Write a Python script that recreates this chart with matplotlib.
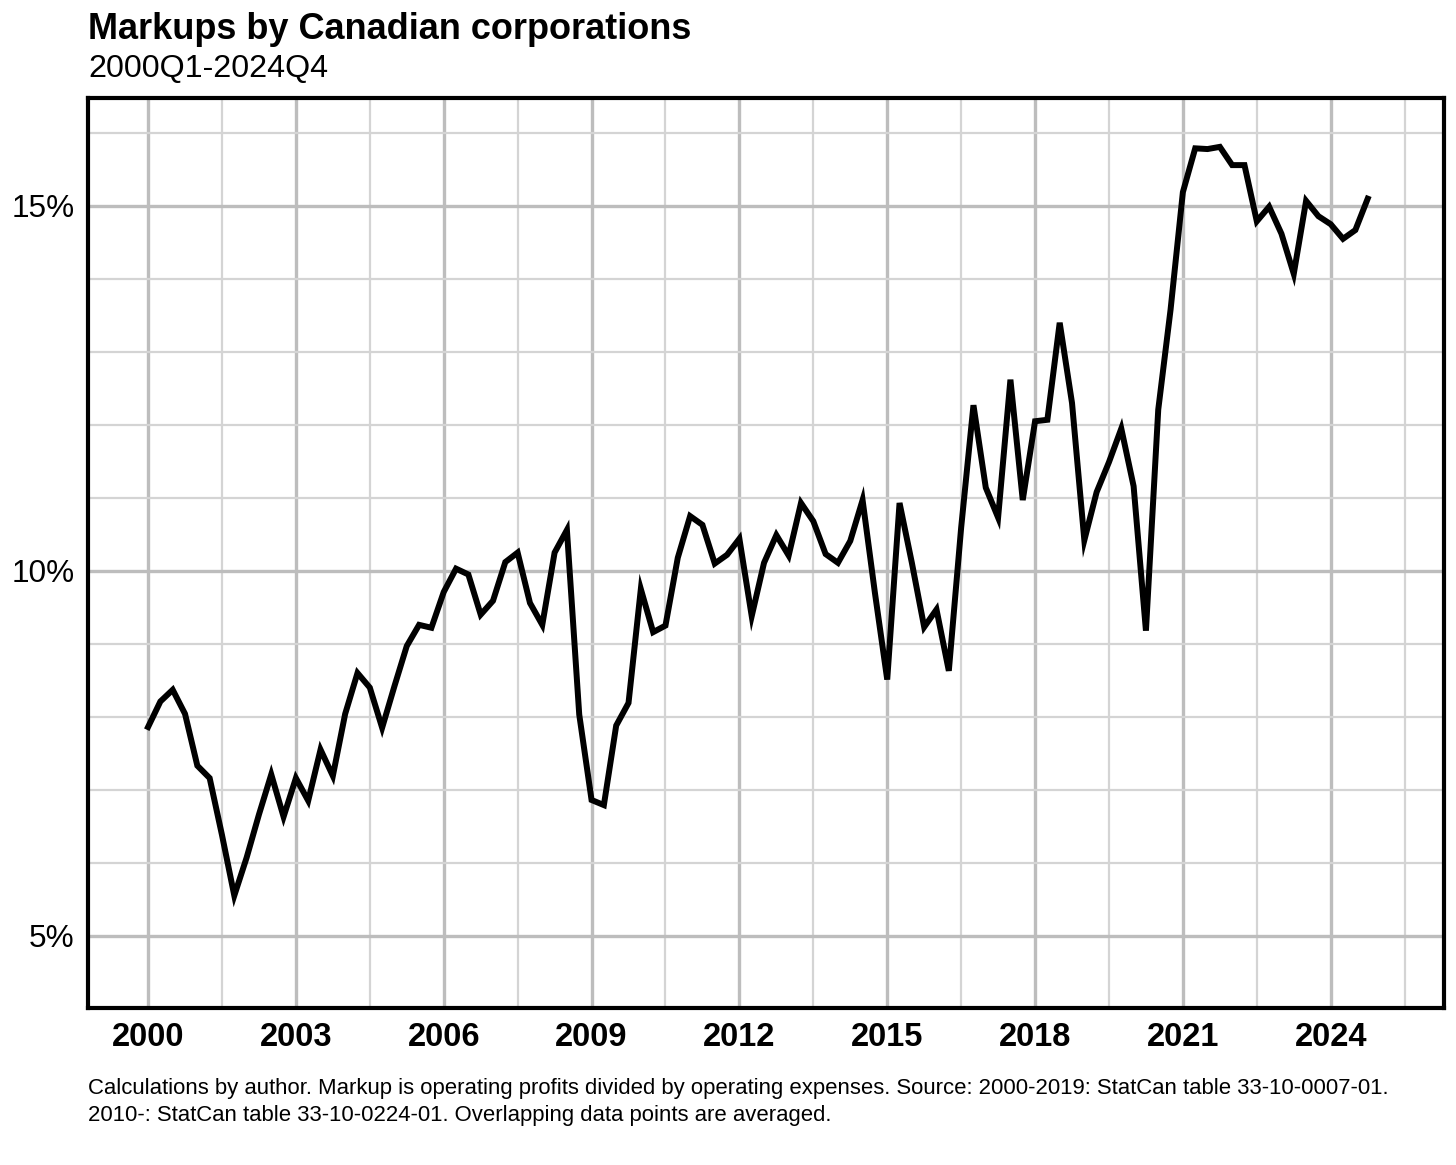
"""Markups by Canadian corporations, 2000Q1-2024Q4 (quarterly line chart)."""
import matplotlib
matplotlib.use("Agg")
import matplotlib.pyplot as plt
from matplotlib.ticker import FixedLocator, FuncFormatter

plt.rcParams["font.family"] = ["Liberation Sans", "DejaVu Sans"]

# quarterly markup, percent
markup = [
    7.86, 8.21, 8.37, 8.04, 7.33, 7.16, 6.38, 5.55,   # 2000-2001
    6.07, 6.66, 7.21, 6.63, 7.16, 6.85, 7.55, 7.19,   # 2002-2003
    8.04, 8.60, 8.40, 7.85, 8.42, 8.97, 9.26, 9.22,   # 2004-2005
    9.71, 10.03, 9.95, 9.40, 9.59, 10.12, 10.25, 9.56,  # 2006-2007
    9.26, 10.25, 10.56, 8.03, 6.86, 6.79, 7.88, 8.19,   # 2008-2009
    9.75, 9.16, 9.25, 10.18, 10.75, 10.63, 10.10, 10.22,  # 2010-2011
    10.44, 9.38, 10.11, 10.49, 10.21, 10.93, 10.68, 10.23,  # 2012-2013
    10.11, 10.41, 10.97, 9.70, 8.51, 10.93, 10.11, 9.23,   # 2014-2015
    9.47, 8.63, 10.59, 12.27, 11.14, 10.73, 12.62, 10.97,  # 2016-2017
    12.05, 12.07, 13.40, 12.30, 10.42, 11.08, 11.49, 11.95,  # 2018-2019
    11.16, 9.18, 12.21, 13.58, 15.19, 15.79, 15.78, 15.81,  # 2020-2021
    15.56, 15.56, 14.79, 14.99, 14.62, 14.07, 15.07, 14.86,  # 2022-2023
    14.75, 14.55, 14.67, 15.10,                              # 2024
]
quarters = [2000 + i / 4 for i in range(len(markup))]

year_ticks = [2000, 2003, 2006, 2009, 2012, 2015, 2018, 2021, 2024]
year_minor = [2001.5, 2004.5, 2007.5, 2010.5, 2013.5, 2016.5, 2019.5, 2022.5, 2025.5]
pct_ticks = [5, 10, 15]
pct_minor = [4, 6, 7, 8, 9, 11, 12, 13, 14, 16]

fig = plt.figure(figsize=(14.56, 11.65), dpi=100)
ax = fig.add_axes([0.0604, 0.1348, 0.9314, 0.7811])

ax.plot(quarters, markup, color="black", lw=4.3, solid_joinstyle="miter", zorder=5)

ax.set_xlim(1998.78, 2026.3)
ax.set_ylim(4.01, 16.48)

ax.xaxis.set_major_locator(FixedLocator(year_ticks))
ax.xaxis.set_minor_locator(FixedLocator(year_minor))
ax.yaxis.set_major_locator(FixedLocator(pct_ticks))
ax.yaxis.set_minor_locator(FixedLocator(pct_minor))
ax.yaxis.set_major_formatter(FuncFormatter(lambda v, _: f"{v:.0f}%"))

ax.grid(which="major", color="#bdbdbd", lw=2.4)
ax.grid(which="minor", color="#d4d4d4", lw=1.6)
ax.set_axisbelow(True)

ax.tick_params(which="both", length=0)
ax.tick_params(axis="x", labelsize=23.5, pad=10)
ax.tick_params(axis="y", labelsize=22.7, pad=9.5)
for lab in ax.get_xticklabels():
    lab.set_fontweight("bold")

for sp in ax.spines.values():
    sp.set_linewidth(3)
    sp.set_color("black")

fig.text(0.0604, 0.9665, "Markups by Canadian corporations", fontsize=26,
         fontweight="bold", ha="left", va="baseline")
fig.text(0.0604, 0.9335, "2000Q1-2024Q4", fontsize=23.2, ha="left", va="baseline")

# va="baseline" on multi-line text anchors the last line
fig.text(0.0604, 0.0380,
         "Calculations by author. Markup is operating profits divided by operating expenses. "
         "Source: 2000-2019: StatCan table 33-10-0007-01.\n"
         "2010-: StatCan table 33-10-0224-01. Overlapping data points are averaged.",
         fontsize=15.9, ha="left", va="baseline", linespacing=1.33)

fig.savefig("out.png", dpi=100)
